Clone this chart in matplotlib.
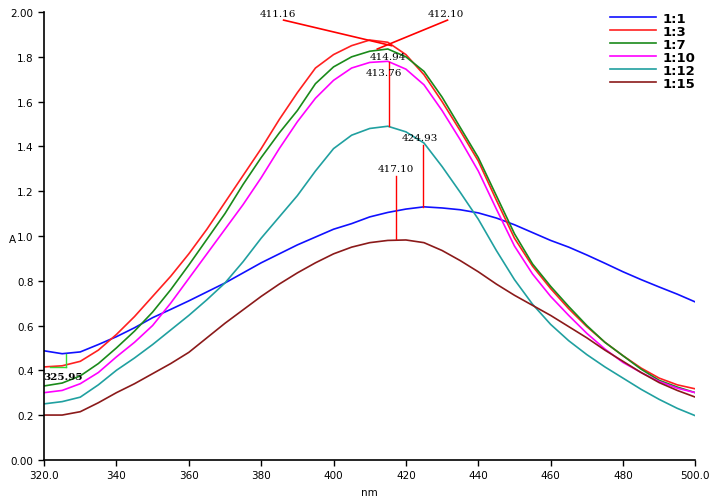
import numpy as np
import matplotlib
matplotlib.use("Agg")
import matplotlib.pyplot as plt

# wavelength grid (nm), values every 5 nm
nm = [320, 325, 330, 335, 340, 345, 350, 355, 360, 365, 370, 375, 380, 385, 390,
      395, 400, 405, 410, 415, 420, 425, 430, 435, 440, 445, 450, 455, 460, 465,
      470, 475, 480, 485, 490, 495, 500]

# absorbance of each ratio
a_1_1 = [0.487, 0.474, 0.482, 0.515, 0.55, 0.59, 0.635, 0.672, 0.71, 0.75, 0.79, 0.835,
         0.88, 0.92, 0.96, 0.995, 1.03, 1.055, 1.085, 1.105, 1.12, 1.13, 1.125, 1.117,
         1.103, 1.08, 1.05, 1.015, 0.98, 0.95, 0.915, 0.878, 0.84, 0.805, 0.772, 0.74, 0.705]
a_1_3 = [0.415, 0.42, 0.44, 0.49, 0.56, 0.64, 0.73, 0.82, 0.92, 1.03, 1.15, 1.27,
         1.39, 1.52, 1.64, 1.75, 1.81, 1.85, 1.875, 1.865, 1.81, 1.72, 1.60, 1.47,
         1.335, 1.16, 0.99, 0.865, 0.765, 0.675, 0.595, 0.525, 0.465, 0.41, 0.365, 0.335, 0.317]
a_1_7 = [0.33, 0.343, 0.375, 0.43, 0.50, 0.575, 0.66, 0.76, 0.87, 0.985, 1.10, 1.23,
         1.35, 1.46, 1.56, 1.68, 1.755, 1.80, 1.825, 1.835, 1.80, 1.735, 1.62, 1.485,
         1.35, 1.18, 1.01, 0.875, 0.775, 0.685, 0.60, 0.525, 0.465, 0.405, 0.355, 0.325, 0.30]
a_1_10 = [0.30, 0.31, 0.34, 0.39, 0.46, 0.525, 0.60, 0.70, 0.81, 0.92, 1.03, 1.14,
          1.26, 1.39, 1.51, 1.615, 1.695, 1.75, 1.775, 1.78, 1.745, 1.675, 1.56, 1.43,
          1.29, 1.12, 0.955, 0.83, 0.73, 0.645, 0.565, 0.495, 0.435, 0.39, 0.35, 0.32, 0.30]
a_1_12 = [0.25, 0.26, 0.28, 0.335, 0.40, 0.455, 0.515, 0.58, 0.645, 0.715, 0.79, 0.885,
          0.99, 1.085, 1.18, 1.29, 1.39, 1.45, 1.48, 1.49, 1.465, 1.415, 1.31, 1.195,
          1.075, 0.935, 0.805, 0.695, 0.605, 0.532, 0.47, 0.415, 0.365, 0.315, 0.27, 0.23, 0.197]
a_1_15 = [0.20, 0.20, 0.215, 0.255, 0.30, 0.34, 0.385, 0.43, 0.48, 0.545, 0.61, 0.67,
          0.73, 0.785, 0.835, 0.88, 0.92, 0.95, 0.97, 0.98, 0.982, 0.97, 0.935, 0.89,
          0.84, 0.785, 0.735, 0.69, 0.645, 0.595, 0.545, 0.49, 0.44, 0.39, 0.345, 0.31, 0.28]

labels = ["1:1", "1:3", "1:7", "1:10", "1:12", "1:15"]
colors = ["#1010ff", "#ff2020", "#1a8a1a", "#ff00ff", "#20a0a0", "#8b1a1a"]
series = [a_1_1, a_1_3, a_1_7, a_1_10, a_1_12, a_1_15]

x_ticks = [320, 340, 360, 380, 400, 420, 440, 460, 480, 500]
x_tick_labels = ["320.0", "340", "360", "380", "400", "420", "440", "460", "480", "500.0"]
y_ticks = [0.0, 0.2, 0.4, 0.6, 0.8, 1.0, 1.2, 1.4, 1.6, 1.8, 2.0]
y_tick_labels = ["0.00", "0.2", "0.4", "0.6", "0.8", "1.0", "1.2", "1.4", "1.6", "1.8", "2.00"]

fig = plt.figure(figsize=(7.11, 5.02), dpi=100)
ax = fig.add_axes([0.062, 0.082, 0.916, 0.892])

for y, lab, c in zip(series, labels, colors):
    ax.plot(nm, y, color=c, linewidth=1.2, label=lab)

# peak markers
ax.plot([386.2, 416.0], [1.964, 1.85], color="red", linewidth=1.2)
ax.plot([431.5, 412.1], [1.964, 1.835], color="red", linewidth=1.2)
ax.plot([415.2, 415.2], [1.777, 1.49], color="red", linewidth=1.0)
ax.plot([424.8, 424.8], [1.406, 1.13], color="red", linewidth=1.0)
ax.plot([417.4, 417.4], [1.268, 0.985], color="red", linewidth=1.0)
ax.plot([325.95, 325.95], [0.473, 0.415], color="#33dd33", linewidth=1.0)
ax.plot([321.6, 325.95], [0.415, 0.415], color="#33dd33", linewidth=1.0)

serif = "DejaVu Serif"
ax.text(384.5, 1.975, "411.16", fontsize=7.5, family=serif, ha="center", va="bottom")
ax.text(431.0, 1.975, "412.10", fontsize=7.5, family=serif, ha="center", va="bottom")
ax.text(415.0, 1.80, "414.94", fontsize=7.5, family=serif, ha="center", va="center")
ax.text(413.8, 1.73, "413.76", fontsize=7.5, family=serif, ha="center", va="center")
ax.text(423.8, 1.44, "424.93", fontsize=7.5, family=serif, ha="center", va="center")
ax.text(417.2, 1.30, "417.10", fontsize=7.5, family=serif, ha="center", va="center")
ax.text(325.2, 0.37, "325.95", fontsize=7.5, family=serif, ha="center", va="center",
        fontweight="bold")

ax.set_xlim(320, 500)
ax.set_ylim(0, 2.0)
ax.set_xticks(x_ticks)
ax.set_xticklabels(x_tick_labels)
ax.set_yticks(y_ticks)
ax.set_yticklabels(y_tick_labels)
ax.tick_params(labelsize=7.5, length=4, width=1, direction="out")
ax.spines["top"].set_visible(False)
ax.spines["right"].set_visible(False)
ax.spines["left"].set_linewidth(1.2)
ax.spines["bottom"].set_linewidth(1.2)
ax.set_xlabel("nm", fontsize=7.5, labelpad=5)
fig.text(12 / 711, 1 - 240 / 502, "A", fontsize=7.5, ha="center", va="center")

leg = ax.legend(loc="upper right", bbox_to_anchor=(1.0, 1.0), frameon=False,
                handlelength=3.5, labelspacing=0.0, borderpad=0, borderaxespad=0,
                handletextpad=0.5, prop={"weight": "bold", "size": 9.5})

fig.savefig("out.png", dpi=100)
